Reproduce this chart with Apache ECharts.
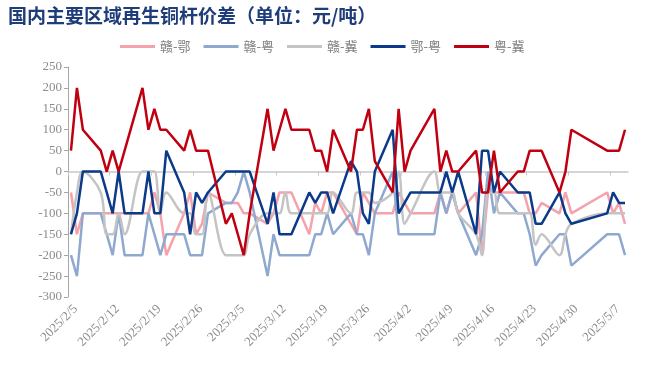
<!DOCTYPE html>
<html>
<head>
<meta charset="utf-8">
<script src="https://cdn.jsdelivr.net/npm/echarts@6/dist/echarts.min.js"></script>
<style>
html,body{margin:0;padding:0;background:#fff;}
#c{width:660px;height:374px;}
</style>
</head>
<body>
<div id="c"></div>
<script>
const dates = ['2025/2/5','2025/2/6','2025/2/7','2025/2/10','2025/2/11','2025/2/12','2025/2/13','2025/2/14',
'2025/2/17','2025/2/18','2025/2/19','2025/2/20','2025/2/21',
'2025/2/24','2025/2/25','2025/2/26','2025/2/27','2025/2/28',
'2025/3/3','2025/3/4','2025/3/5','2025/3/6','2025/3/7',
'2025/3/10','2025/3/11','2025/3/12','2025/3/13','2025/3/14',
'2025/3/17','2025/3/18','2025/3/19','2025/3/20','2025/3/21',
'2025/3/24','2025/3/25','2025/3/26','2025/3/27','2025/3/28',
'2025/3/31','2025/4/1','2025/4/2','2025/4/3',
'2025/4/7','2025/4/8','2025/4/9','2025/4/10','2025/4/11',
'2025/4/14','2025/4/15','2025/4/16','2025/4/17','2025/4/18',
'2025/4/21','2025/4/22','2025/4/23','2025/4/24','2025/4/25',
'2025/4/28','2025/4/29','2025/4/30',
'2025/5/6','2025/5/7','2025/5/8','2025/5/9'];

const seriesNames = ['赣-鄂','赣-粤','赣-冀','鄂-粤','粤-冀'];

const ganE = [-50,-150,-100,-100,-100,-100,-100,-100,
-100,-100,-50,-100,-200,
-100,-50,-150,-125,-50,
-75,-75,-75,-100,-100,
-125,-100,-50,-50,-50,
-150,-75,-100,-50,-50,
-125,-150,-50,-75,-100,
-100,-50,-75,-100,
-100,-50,-100,-50,-100,
-50,-200,-50,-50,-50,
-50,-50,-100,-100,-75,
-100,-50,-100,
-50,-100,-75,-125];

const ganYue = [-200,-250,-100,-100,-150,-200,-100,-200,
-200,-100,-150,-200,-150,
-150,-200,-200,-200,-100,
-75,-75,-50,0,-50,
-250,-150,-200,-200,-200,
-200,-150,-150,-100,-150,
-100,-150,-150,-200,-100,
0,-150,-150,-150,
-150,-50,-100,-50,-100,
-200,-150,0,-100,-50,
-100,-100,-150,-225,-200,
-150,-150,-225,
-150,-150,-150,-200];

const ganJi = [-150,-50,0,-50,-150,-150,-100,-150,
0,0,0,-100,-50,
-100,-100,-150,-150,-50,
-200,-200,-200,-200,-150,
-100,-100,-100,-50,-100,
-100,-100,-100,-100,-50,
-100,-50,-50,-50,-75,
-50,0,-125,-100,
0,-50,-50,-50,-100,
-150,-200,-50,-50,-100,
-100,-100,-100,-175,-150,
-200,-150,-125,
-100,-100,-100,-100];

const eYue = [-150,-100,0,0,-50,-100,0,-100,
-100,0,-100,-100,50,
-50,-150,-50,-75,-50,
0,0,0,0,0,
-125,-50,-150,-150,-150,
-50,-75,-50,-50,-100,
25,0,-100,-125,0,
100,-100,-75,-50,
-50,-50,0,-50,0,
-150,50,50,-50,0,
-50,-50,-50,-125,-125,
-50,-100,-125,
-100,-50,-75,-75];

const yueJi = [50,200,100,50,0,50,0,50,
200,100,150,100,100,
50,100,50,50,50,
-125,-100,-150,-200,-100,
150,50,100,150,100,
100,50,50,0,100,
0,100,100,150,25,
-50,150,0,50,
150,0,50,0,0,
50,-50,-50,50,-50,
0,0,50,50,50,
-50,0,100,
50,50,50,100];

const yTicks = [250,200,150,100,50,0,-50,-100,-150,-200,-250,-300];

const colors = ['#F4A2AC','#8FA8CF','#C4C4C4','#0B3A8A','#C00010'];

const BASE = Date.UTC(2025,1,5);
const DAY = 86400000;
function dayIndex(s){
  const p = s.split('/').map(Number);
  return Math.round((Date.UTC(p[0],p[1]-1,p[2]) - BASE)/DAY);
}
function fmtDay(v){
  const d = new Date(BASE + Math.round(v)*DAY);
  return d.getUTCFullYear()+'/'+(d.getUTCMonth()+1)+'/'+d.getUTCDate();
}
function toData(vals){ return dates.map((s,i)=>[dayIndex(s)+0.5, vals[i]]); }

const allVals = [ganE, ganYue, ganJi, eYue, yueJi];
const tickDays = [];
for (let d = 0; d <= 91; d += 7) tickDays.push(d);
const labelShift = 1.3;
const labelDays = tickDays.map(d=>d+labelShift);

const chart = echarts.init(document.getElementById('c'), null, {renderer:'canvas'});
chart.setOption({
  animation:false,
  backgroundColor:'#fff',
  title:{
    text:'国内主要区域再生铜杆价差（单位：元/吨）',
    left:8, top:6, padding:0,
    textStyle:{fontFamily:'Noto Sans CJK SC', fontSize:19, fontWeight:'bold', color:'#1F3D7A'}
  },
  legend:{
    data:seriesNames,
    left:120, top:40, padding:0,
    icon:'rect', itemWidth:35, itemHeight:3, itemGap:13,
    textStyle:{fontFamily:'Noto Sans CJK SC', fontSize:13, color:'#7F7F7F'}
  },
  grid:{left:68, right:32, top:67, bottom:77, containLabel:false},
  xAxis:[{
    type:'value', min:0, max:94,
    axisLine:{show:false, onZero:false},
    axisTick:{show:false},
    splitLine:{show:false},
    axisLabel:{
      customValues:labelDays,
      rotate:45, margin:10,
      fontFamily:'Liberation Serif', fontSize:13, color:'#8C8C8C',
      formatter:function(v){ return fmtDay(v - labelShift); }
    }
  },{
    type:'value', min:0, max:94, position:'bottom',
    axisLine:{show:true, onZero:true, lineStyle:{color:'#C8C8C8', width:1.5}},
    axisTick:{show:true, customValues:tickDays, length:4, lineStyle:{color:'#C8C8C8'}},
    axisLabel:{show:false},
    splitLine:{show:false}
  }],
  yAxis:{
    type:'value', min:-300, max:250, interval:50,
    axisLine:{show:true, lineStyle:{color:'#A6A6A6'}},
    axisTick:{show:true, length:4, lineStyle:{color:'#A6A6A6'}},
    splitLine:{show:false},
    axisLabel:{fontFamily:'Liberation Serif', fontSize:13, color:'#8C8C8C', margin:6}
  },
  series: allVals.map((vals,i)=>({
    name:seriesNames[i], type:'line', xAxisIndex:0,
    data:toData(vals), symbol:'none', smooth: i===2 ? 0.35 : false,
    lineStyle:{width:2.5, color:colors[i]}, itemStyle:{color:colors[i]}
  }))
});
</script>
</body>
</html>
